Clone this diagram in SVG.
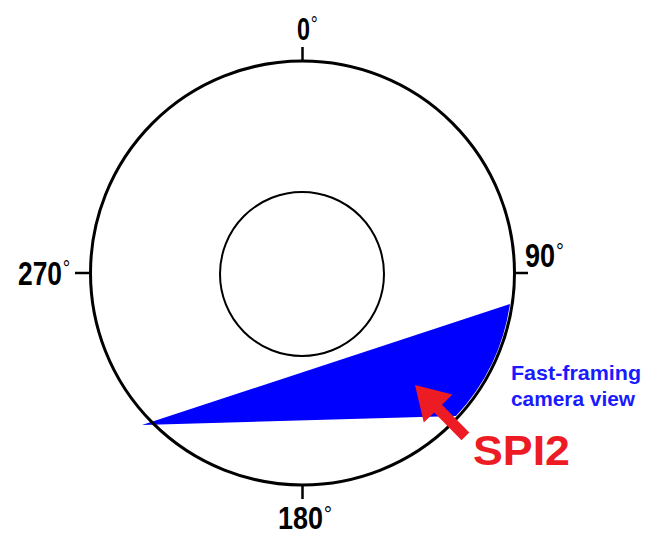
<svg xmlns="http://www.w3.org/2000/svg" width="646" height="535" viewBox="0 0 646 535">
<style>
.lbl{font-family:"Liberation Sans",Arial,sans-serif;font-weight:bold;fill:#000}
.deg{font-size:24px;font-weight:normal}
.cam{font-family:"Liberation Sans",Arial,sans-serif;font-weight:bold;font-size:21px;fill:#1a1aff}
</style>
<rect width="646" height="535" fill="#fff"/>
<g id="view">
<path d="M142,425 L510,304 A209,209 0 0,1 456,416 Z" fill="#0000ff"/>
</g>
<g id="outer" fill="none" stroke="#000">
<circle cx="302.5" cy="273" r="212" stroke-width="3"/>
<line x1="302.5" y1="61" x2="302.5" y2="47" stroke-width="2.5"/>
<line x1="514.5" y1="273" x2="528" y2="273" stroke-width="2.5"/>
<line x1="90.5" y1="273" x2="75" y2="273" stroke-width="2.5"/>
<line x1="302.5" y1="485" x2="302.5" y2="499" stroke-width="2.5"/>
</g>
<g id="inner">
<circle cx="302" cy="274" r="82" fill="none" stroke="#000" stroke-width="2"/>
</g>
<g id="labels">
<text class="lbl" font-size="32" transform="translate(297,40) scale(0.73,1)">0<tspan class="deg" dx="1" dy="-8">°</tspan></text>
<text class="lbl" font-size="34" transform="translate(18,285) scale(0.776,1)">270<tspan class="deg" dx="1" dy="-9">°</tspan></text>
<text class="lbl" font-size="33" transform="translate(525,267) scale(0.82,1)">90<tspan class="deg" dx="1" dy="-8">°</tspan></text>
<text class="lbl" font-size="31" transform="translate(278,529) scale(0.87,1)">180<tspan class="deg" dx="1" dy="-7">°</tspan></text>
</g>
<g id="caption">
<text class="cam" x="511" y="380" textLength="130" lengthAdjust="spacingAndGlyphs">Fast-framing</text>
<text class="cam" x="511" y="406" textLength="124" lengthAdjust="spacingAndGlyphs">camera view</text>
</g>
<g id="spi2">
<polygon points="415,385 452.4,394.6 442,404.8 469.3,432.6 461.5,440.2 434.2,412.4 423.8,422.6" fill="#ed1c24"/>
<text x="473" y="465" font-family="'Liberation Sans',Arial,sans-serif" font-weight="bold" font-size="42" fill="#ed1c24" textLength="97" lengthAdjust="spacingAndGlyphs">SPI2</text>
</g>
</svg>
